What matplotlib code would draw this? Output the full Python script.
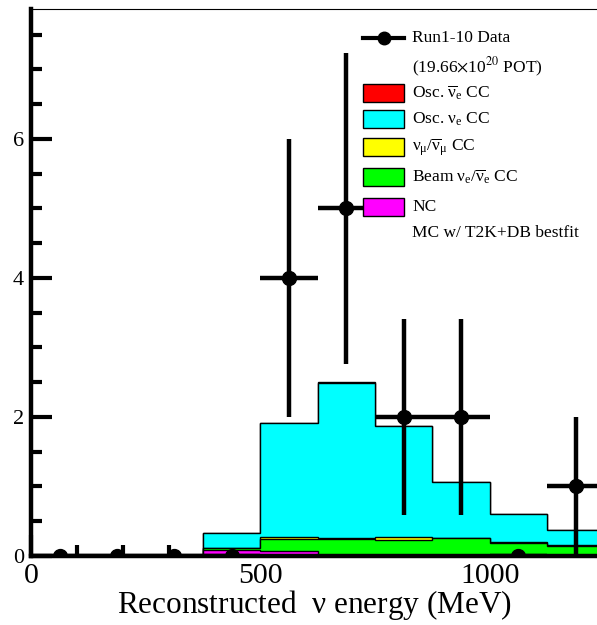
import numpy as np
import matplotlib
matplotlib.use("Agg")
import matplotlib.pyplot as plt
from matplotlib.patches import Rectangle
from matplotlib.lines import Line2D
from matplotlib.ticker import MultipleLocator

plt.rcParams["font.family"] = ["Liberation Serif", "DejaVu Serif"]
plt.rcParams["mathtext.fontset"] = "stix"

# 125 MeV bins from 0 to 1250 MeV
edges = np.arange(0, 1251, 125)
centers = 0.5 * (edges[:-1] + edges[1:])

# observed events per bin
data_counts = np.array([0, 0, 0, 0, 4, 5, 2, 2, 0, 1])

# MC expectation per bin, one array per component
mc_nc = np.array([0, 0, 0, 0.09, 0.07, 0.01, 0.02, 0.02, 0.01, 0.01])
mc_beam_nue = np.array([0, 0, 0, 0.02, 0.17, 0.24, 0.21, 0.24, 0.18, 0.14])
mc_numu = np.array([0, 0, 0, 0.01, 0.04, 0.005, 0.045, 0.005, 0.005, 0.005])
mc_osc_nue = np.array([0, 0, 0, 0.215, 1.63, 2.235, 1.595, 0.795, 0.405, 0.225])
mc_osc_nuebar = np.array([0, 0, 0, 0.0, 0.005, 0.01, 0.005, 0.005, 0.0, 0.0])

layers = [mc_nc, mc_beam_nue, mc_numu, mc_osc_nue, mc_osc_nuebar]
colors = ["#ff00ff", "#00ff00", "#ffff00", "#00ffff", "#ff0000"]
labels = [
    "NC",
    r"Beam $\mathregular{\nu_e/\overline{\nu}_e}$ CC",
    r"$\mathregular{\nu_\mu/\overline{\nu}_\mu}$ CC",
    r"Osc. $\mathregular{\nu_e}$ CC",
    r"Osc. $\mathregular{\overline{\nu}_e}$ CC",
]

fig = plt.figure(figsize=(5.97, 6.25), dpi=100)
ax = fig.add_axes([31 / 597, 69 / 625, 1 - 31 / 597, 547 / 625])

# stacked histogram: draw cumulative sums from the top layer down
cum = np.cumsum(layers, axis=0)
for i in range(len(layers) - 1, -1, -1):
    ax.stairs(cum[i], edges, baseline=0, fill=True,
              facecolor=colors[i], edgecolor="black", linewidth=1.0, zorder=2)

ax.errorbar(centers, data_counts, xerr=62.5, yerr=np.sqrt(data_counts),
            fmt="o", color="black", ms=10, elinewidth=3.2, capsize=0,
            zorder=4, clip_on=True)

ax.set_xlim(0, 1234)
ax.set_ylim(0, 7.87)

ax.xaxis.set_major_locator(MultipleLocator(500))
ax.xaxis.set_minor_locator(MultipleLocator(100))
ax.yaxis.set_major_locator(MultipleLocator(2))
ax.yaxis.set_minor_locator(MultipleLocator(0.5))
ax.tick_params(which="both", direction="in", top=False, right=False,
               width=3, zorder=5)
ax.tick_params(which="major", length=15)
ax.tick_params(which="minor", length=8)
ax.tick_params(axis="x", labelsize=21.5, pad=5)
ax.tick_params(axis="y", labelsize=16, pad=5)

ax.spines["left"].set_linewidth(3.2)
ax.spines["bottom"].set_linewidth(3.2)
ax.spines["top"].set_linewidth(0.8)
ax.spines["right"].set_visible(False)
for s in ax.spines.values():
    s.set_zorder(5)

ax.set_xlabel(r"Reconstructed  $\mathregular{\nu}$ energy (MeV)", fontsize=22.5,
              labelpad=-1)

# legend block
def fy(py):
    return 1 - py / 625

box_x0, box_x1, text_x = 363 / 597, 404 / 597, 412 / 597
fs = 12.5
fig.add_artist(Line2D([box_x0, box_x1], [fy(38), fy(38)], color="black", lw=3,
                      transform=fig.transFigure))
fig.add_artist(Line2D([(box_x0 + box_x1) / 2], [fy(38)], color="black",
                      marker="o", ms=9, transform=fig.transFigure))
fig.text(text_x, fy(38), "Run1-10 Data", fontsize=fs, va="center")
fig.text(text_x, fy(67), r"(19.66$\times$10$^{20}$ POT)", fontsize=fs, va="center")

rows = [93, 119, 147, 177, 207]
for py, idx in zip(rows, [4, 3, 2, 1, 0]):
    fig.add_artist(Rectangle((box_x0, fy(py) - 9 / 625), box_x1 - box_x0, 18 / 625,
                             facecolor=colors[idx], edgecolor="black", lw=1,
                             transform=fig.transFigure))
    fig.text(text_x, fy(py), labels[idx], fontsize=fs, va="center")
fig.text(text_x, fy(233), "MC w/ T2K+DB bestfit", fontsize=fs, va="center")

fig.savefig("out.png", dpi=100)
